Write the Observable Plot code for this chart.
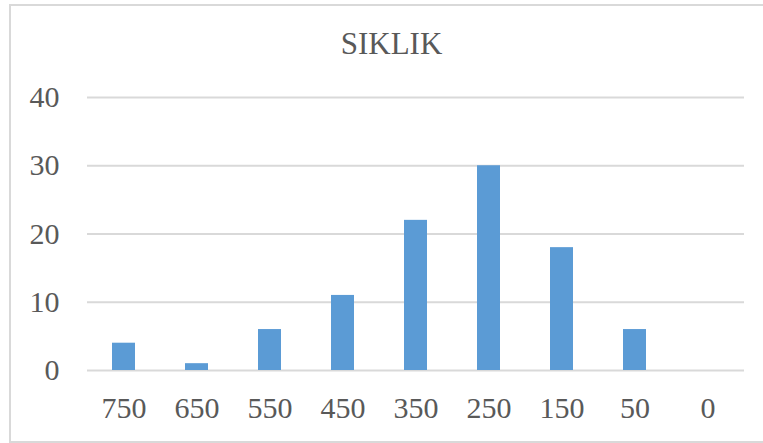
<!DOCTYPE html>
<html>
<head>
<meta charset="utf-8">
<script src="https://cdn.jsdelivr.net/npm/d3@7"></script>
<script src="https://cdn.jsdelivr.net/npm/@observablehq/plot@0.6"></script>
<style>
  html, body { margin: 0; padding: 0; background: #fff; }
  #wrap { position: relative; width: 763px; height: 443px; overflow: hidden;
          font-family: "Times New Roman", "Liberation Serif", serif; }
  #frame { position: absolute; left: 9px; top: 4px; width: 780px; height: 435px;
           border: 2px solid #d9d9d9; box-sizing: content-box; }
  #title { position: absolute; left: 0; width: 783px; top: 26px; text-align: center;
           font-size: 31px; color: #595959; line-height: 36px; }
  #chart { position: absolute; left: 0; top: 70px; }
</style>
</head>
<body>
<div id="wrap">
  <div id="frame"></div>
  <div id="title">SIKLIK</div>
  <div id="chart"></div>
</div>
<script>
const categories = ["750", "650", "550", "450", "350", "250", "150", "50", "0"];
const values = [4, 1, 6, 11, 22, 30, 18, 6, 0];
const yTicks = [0, 10, 20, 30, 40];

const data = categories.map((c, i) => ({category: c, value: values[i]}));

const plot = Plot.plot({
  width: 763,
  height: 373,
  marginTop: 27,
  marginBottom: 73,
  marginLeft: 87,
  marginRight: 19,
  style: {fontFamily: '"Times New Roman", "Liberation Serif", serif', fontSize: "30px", color: "#595959", background: "transparent"},
  x: {domain: categories, paddingInner: 0.685, paddingOuter: 0.3425, label: null},
  y: {domain: [0, 40], ticks: yTicks, label: null},
  marks: [
    Plot.gridY(yTicks, {stroke: "#d9d9d9", strokeOpacity: 1, strokeWidth: 2}),
    Plot.barY(data, {x: "category", y: "value", fill: "#5b9bd5"}),
    Plot.axisY({ticks: yTicks, tickSize: 0, tickPadding: 28, fontSize: 30, fill: "#595959", label: null}),
    Plot.axisX({tickSize: 0, tickPadding: 26, fontSize: 30, fill: "#595959", label: null})
  ]
});
document.getElementById("chart").appendChild(plot);
</script>
</body>
</html>
